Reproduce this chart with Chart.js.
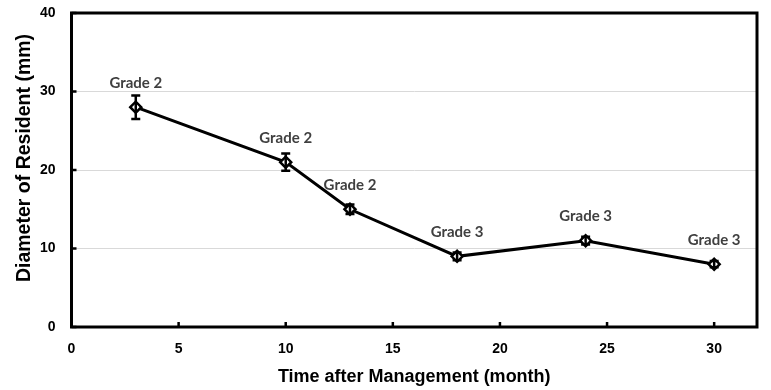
<!DOCTYPE html>
<html>
<head>
<meta charset="utf-8">
<script src="https://cdn.jsdelivr.net/npm/chart.js@4.4.0/dist/chart.umd.min.js"></script>
<style>
  html,body{margin:0;padding:0;background:#fff;}
  #wrap{width:771px;height:390px;}
</style>
</head>
<body>
<div id="wrap"><canvas id="diamChart" width="771" height="390"></canvas></div>
<script>
/* ===============================
   DATA
================================= */
const months=[3,10,13,18,24,30];
const diameters=[28,21,15,9,11,8];
const errors=[1.5,1.1,0.6,0.5,0.5,0.4];
const grades=['Grade 2','Grade 2','Grade 2','Grade 3','Grade 3','Grade 3'];
const xTicks=[0,5,10,15,20,25,30];
const yTicks=[0,10,20,30,40];
const yTitle='Diameter of Resident (mm)';

const arial='"Liberation Sans",Arial,sans-serif';
const calibri='Lato,"Open Sans",sans-serif';

/* ===============================
   PLUGINS: error bars, labels, frame
================================= */
const errorBars={
    id:'errorBars',
    afterDatasetsDraw(chart){
        const {ctx,scales:{x,y}}=chart;
        ctx.save();
        ctx.strokeStyle='#000';
        ctx.lineWidth=2.5;
        months.forEach((m,i)=>{
            const px=x.getPixelForValue(m);
            const top=y.getPixelForValue(diameters[i]+errors[i]);
            const bot=y.getPixelForValue(diameters[i]-errors[i]);
            ctx.beginPath();
            ctx.moveTo(px,top);ctx.lineTo(px,bot);
            ctx.moveTo(px-4.5,top);ctx.lineTo(px+4.5,top);
            ctx.moveTo(px-4.5,bot);ctx.lineTo(px+4.5,bot);
            ctx.stroke();
        });
        // grade labels
        ctx.fillStyle='#404040';
        ctx.font='bold 15px '+calibri;
        ctx.textAlign='center';
        ctx.textBaseline='middle';
        months.forEach((m,i)=>{
            ctx.fillText(grades[i],x.getPixelForValue(m),y.getPixelForValue(diameters[i])-24);
        });
        ctx.restore();
    }
};

const frame={
    id:'frame',
    afterDraw(chart){
        const {ctx,chartArea:a,scales:{x,y}}=chart;
        ctx.save();
        ctx.strokeStyle='#000';
        ctx.lineWidth=3;
        ctx.strokeRect(a.left,a.top,a.right-a.left,a.bottom-a.top);
        ctx.lineWidth=2.5;
        ctx.beginPath();
        xTicks.forEach(v=>{
            const px=x.getPixelForValue(v);
            ctx.moveTo(px,a.bottom);ctx.lineTo(px,a.bottom-5);
        });
        yTicks.forEach(v=>{
            const py=y.getPixelForValue(v);
            ctx.moveTo(a.left,py);ctx.lineTo(a.left+5,py);
        });
        ctx.stroke();
        // y axis title (sits a bit above the plot centre, like the original)
        ctx.translate(25,(a.top+a.bottom)/2-12);
        ctx.rotate(-Math.PI/2);
        ctx.fillStyle='#000';
        ctx.font='bold 19.5px '+arial;
        ctx.textAlign='center';
        ctx.textBaseline='middle';
        ctx.fillText(yTitle,0,0);
        ctx.restore();
    }
};

/* ===============================
   CHART
================================= */
const ctx=document.getElementById('diamChart').getContext('2d');
new Chart(ctx,{
    type:'scatter',
    data:{
        datasets:[{
            data:months.map((m,i)=>({x:m,y:diameters[i]})),
            showLine:true,
            borderColor:'#000',
            borderWidth:3,
            pointStyle:'rectRot',
            pointRadius:5.5,
            pointBorderWidth:2.5,
            pointBackgroundColor:'#fff',
            pointBorderColor:'#000',
            tension:0
        }]
    },
    options:{
        responsive:false,
        animation:false,
        layout:{autoPadding:false,padding:{top:13,right:14,left:0,bottom:0}},
        plugins:{legend:{display:false},tooltip:{enabled:false}},
        scales:{
            x:{
                type:'linear',min:0,max:32,
                afterBuildTicks(s){s.ticks=xTicks.map(v=>({value:v}));},
                afterFit(s){s.height=63;s.paddingLeft=0;s.paddingRight=0;},
                grid:{display:false,drawTicks:false},
                border:{display:false},
                ticks:{color:'#000',padding:14,maxRotation:0,font:{family:arial,size:14,weight:'bold'}},
                title:{display:true,text:'Time after Management (month)',color:'#000',padding:{top:6,bottom:2},font:{family:arial,size:18,weight:'bold'}}
            },
            y:{
                min:0,max:40,
                afterBuildTicks(s){s.ticks=yTicks.map(v=>({value:v}));},
                afterFit(s){s.width=71.5;s.paddingTop=0;s.paddingBottom=0;},
                grid:{color:'#d9d9d9',lineWidth:1,drawTicks:false},
                border:{display:false},
                ticks:{color:'#000',padding:16,font:{family:arial,size:14,weight:'bold'}}
            }
        }
    },
    plugins:[errorBars,frame]
});
</script>
</body>
</html>
